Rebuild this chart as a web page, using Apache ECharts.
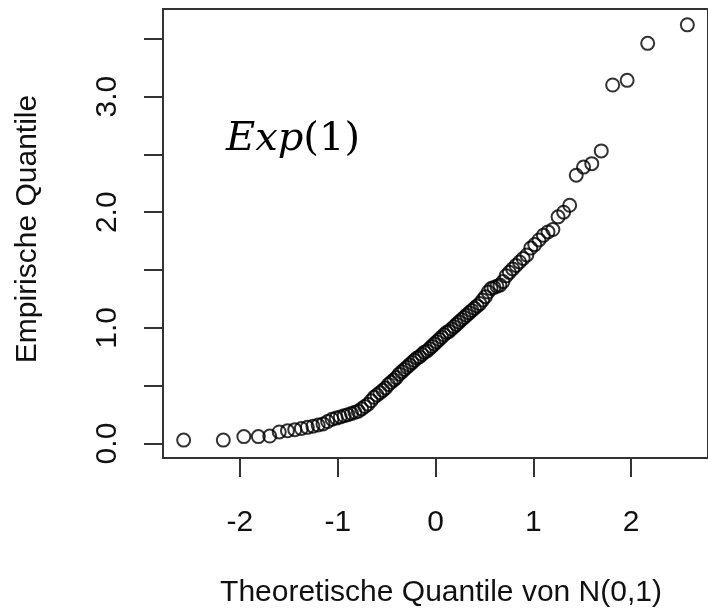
<!DOCTYPE html>
<html>
<head>
<meta charset="utf-8">
<script src="https://cdn.jsdelivr.net/npm/echarts@6/dist/echarts.min.js"></script>
<style>html,body{margin:0;padding:0;background:#fff;}#c{width:708px;height:611px;}</style>
</head>
<body>
<div id="c"></div>
<script>
// theoretical N(0,1) quantiles (n = 100)
var theoQ = [
-2.5758,-2.1701,-1.9600,-1.8119,-1.6954,-1.5982,-1.5141,-1.4395,-1.3722,-1.3106,
-1.2536,-1.2004,-1.1503,-1.1031,-1.0581,-1.0152,-0.9741,-0.9346,-0.8965,-0.8596,
-0.8239,-0.7892,-0.7554,-0.7225,-0.6903,-0.6588,-0.6280,-0.5978,-0.5681,-0.5388,
-0.5101,-0.4817,-0.4538,-0.4261,-0.3989,-0.3719,-0.3451,-0.3186,-0.2924,-0.2663,
-0.2404,-0.2147,-0.1891,-0.1637,-0.1383,-0.1130,-0.0878,-0.0627,-0.0376,-0.0125,
0.0125,0.0376,0.0627,0.0878,0.1130,0.1383,0.1637,0.1891,0.2147,0.2404,
0.2663,0.2924,0.3186,0.3451,0.3719,0.3989,0.4261,0.4538,0.4817,0.5101,
0.5388,0.5681,0.5978,0.6280,0.6588,0.6903,0.7225,0.7554,0.7892,0.8239,
0.8596,0.8965,0.9346,0.9741,1.0152,1.0581,1.1031,1.1503,1.2004,1.2536,
1.3106,1.3722,1.4395,1.5141,1.5982,1.6954,1.8119,1.9600,2.1701,2.5758
];
// empirical (sorted sample) quantiles
var empQ = [
0.03,0.03,0.06,0.06,0.065,0.10,0.11,0.12,0.13,0.14,
0.15,0.16,0.17,0.19,0.21,0.22,0.23,0.24,0.25,0.26,
0.27,0.28,0.30,0.32,0.34,0.37,0.40,0.42,0.44,0.46,
0.48,0.51,0.53,0.55,0.57,0.60,0.62,0.64,0.66,0.68,
0.70,0.72,0.74,0.75,0.77,0.79,0.80,0.82,0.84,0.86,
0.88,0.90,0.92,0.94,0.96,0.97,0.99,1.01,1.03,1.05,
1.07,1.09,1.11,1.13,1.15,1.17,1.19,1.21,1.24,1.27,
1.31,1.34,1.35,1.36,1.37,1.40,1.45,1.48,1.51,1.54,
1.57,1.60,1.63,1.69,1.72,1.76,1.80,1.83,1.85,1.96,
2.00,2.06,2.32,2.39,2.42,2.53,3.10,3.14,3.46,3.62
];
var xTicks = [-2,-1,0,1,2];
var yTicks = [0,0.5,1,1.5,2,2.5,3,3.5];
var yLabels = [0,1,2,3];
var xTitle = 'Theoretische Quantile von N(0,1)';
var yTitle = 'Empirische Quantile';

var pts = theoQ.map(function(x,i){return [x, empQ[i]];});
var FONT = 'Liberation Sans, Arial, sans-serif';
var chart = echarts.init(document.getElementById('c'), null, {renderer:'canvas'});
chart.setOption({
  animation:false,
  backgroundColor:'#fff',
  grid:{left:163, top:9, width:552, height:449, show:true, borderColor:'#333', borderWidth:2, backgroundColor:'transparent'},
  xAxis:{type:'value', min:-2.787, max:2.787,
    axisLine:{show:false, onZero:false}, splitLine:{show:false},
    axisTick:{show:true, length:19, customValues:xTicks, lineStyle:{color:'#333', width:2}},
    axisLabel:{customValues:xTicks, margin:50, fontSize:30, color:'#111', fontFamily:FONT}
  },
  yAxis:{type:'value', min:-0.125, max:3.757,
    axisLine:{show:false, onZero:false}, splitLine:{show:false},
    axisTick:{show:true, length:19, customValues:yTicks, lineStyle:{color:'#333', width:2}},
    axisLabel:{customValues:yLabels, rotate:90, margin:40, fontSize:30, color:'#111', fontFamily:FONT,
      formatter:function(v){return v.toFixed(1);}}
  },
  series:[{type:'scatter', data:pts, symbol:'circle', symbolSize:13,
    itemStyle:{color:'rgba(0,0,0,0)', borderColor:'#000', borderWidth:2}}],
  graphic:[
    {type:'text', style:{text:xTitle, x:0, y:0, align:'center', verticalAlign:'middle', font:'30px '+FONT, fill:'#111'}, x:441, y:593},
    {type:'text', style:{text:yTitle, x:0, y:0, align:'center', verticalAlign:'middle', font:'30px '+FONT, fill:'#111'}, x:28, y:229, rotation:Math.PI/2},
    {type:'text', style:{rich:{a:{fontStyle:'italic', fontSize:40, fontFamily:'DejaVu Serif, Liberation Serif, serif', fill:'#000'}, b:{fontSize:40, fontFamily:'DejaVu Serif, Liberation Serif, serif', fill:'#000'}}, text:'{a|Exp}{b|(1)}', x:0, y:0, align:'left', verticalAlign:'middle'}, x:226, y:140}
  ]
});
</script>
</body>
</html>
